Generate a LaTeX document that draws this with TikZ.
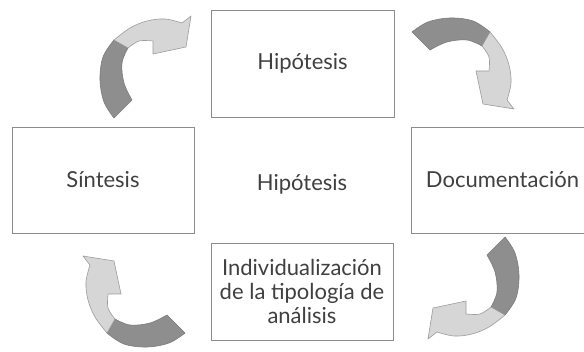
\documentclass[tikz,border=0pt]{standalone}
\usepackage{fontspec}
\setmainfont{Lato}
\definecolor{boxgray}{HTML}{8C8C8C}
\definecolor{txtgray}{HTML}{404040}
\definecolor{darkarr}{HTML}{8E8E8E}
\definecolor{darkedge}{HTML}{7C7C7C}
\definecolor{lightarr}{HTML}{D6D6D6}
\definecolor{lightedge}{HTML}{9C9C9C}
\begin{document}
\begin{tikzpicture}[x=1pt,y=1pt,
  box/.style={draw=boxgray, line width=0.9pt, minimum width=183pt, minimum height=107pt,
    inner sep=0pt, font=\fontsize{22}{24}\selectfont, text=txtgray, align=center},
  plain/.style={font=\fontsize{22}{24}\selectfont, text=txtgray, align=center},
  carrow/.pic={
    \filldraw[fill=darkarr, draw=darkedge, line width=0.6pt, line join=round]
      plot[smooth, tension=0.6] coordinates {(-46,33) (-30,43) (-8,47) (15,44) (32,33)}
      -- plot[smooth, tension=0.6] coordinates {(24,19) (9,25) (-11,23) (-28,15)} -- cycle;
    \filldraw[fill=lightarr, draw=lightedge, line width=0.6pt, line join=round]
      plot[smooth, tension=0.6] coordinates {(32,33) (44,17) (51,0) (53,-18) (49,-35)}
      -- (56,-44) -- (25,-39) -- (18,-6)
      -- plot[smooth, tension=0.6] coordinates {(31,-6) (31,8) (24,19)} -- cycle;
  }]
\useasboundingbox (0,0) rectangle (584,351);
\fill[white] (0,0) rectangle (584,351);
\node[box] (hip) at (302.5,287.5) {Hipótesis};
\node[box, minimum width=182pt, minimum height=106pt] (sin) at (103,171) {Síntesis};
\node[box, minimum width=183pt, minimum height=106pt] (doc) at (502.5,171) {Documentación};
\node[box, minimum width=182pt, minimum height=97pt] (ind) at (302,59.5)
  {Individualización\\de la tipología de\\análisis};
\node[plain] (mid) at (302,167) {Hipótesis};
\pic[rotate=90] (a1) at (147,279) {carrow};
\pic (a2) at (458,286) {carrow};
\pic[rotate=-90] (a3) at (472,68) {carrow};
\pic[rotate=180] (a4) at (139,51) {carrow};
\end{tikzpicture}
\end{document}
